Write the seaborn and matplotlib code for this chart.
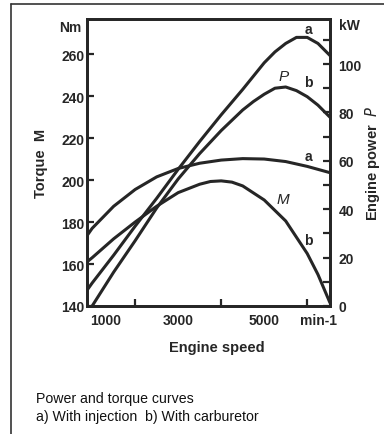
import matplotlib
matplotlib.use("Agg")
import matplotlib.pyplot as plt
import matplotlib.transforms as mtransforms
import seaborn as sns

# values
rpm_power_a = [880, 1000, 1500, 2000, 2500, 3000, 3500, 4000, 4500, 5000, 5250, 5500, 5750, 6000, 6250, 6530]
power_a = [6.5, 9.5, 21, 33, 44.5, 56.5, 68, 79, 89.5, 100.5, 105, 108.5, 111, 111, 108.5, 103.5]

rpm_power_b = [1000, 1500, 2000, 2500, 3000, 3500, 4000, 4500, 4750, 5000, 5250, 5500, 5750, 6000, 6250, 6530]
power_b = [0, 14, 27, 40.5, 52.5, 63, 72.5, 81, 84.5, 87.5, 90, 90.5, 89, 86.5, 83, 78]

rpm_torque_a = [880, 1000, 1500, 2000, 2500, 3000, 3500, 4000, 4500, 5000, 5500, 6000, 6530]
torque_a = [173.5, 177, 187.5, 195.5, 201.5, 205.5, 208, 209.5, 210.2, 210, 208.8, 206.5, 203.5]

rpm_torque_b = [880, 1000, 1500, 2000, 2500, 3000, 3500, 3750, 4000, 4250, 4500, 5000, 5500, 6000, 6250, 6530]
torque_b = [161, 163, 172, 180, 187.5, 194, 198, 199.3, 199.6, 199, 197.2, 190.5, 180.5, 165, 155, 141.5]

torque_ticks = [140, 160, 180, 200, 220, 240, 260]
power_ticks = [0, 20, 40, 60, 80, 100]
power_minor = [10, 30, 50, 70, 90, 110]
speed_ticks = [1000, 3000, 5000, 6256]
speed_labels = ["1000", "3000", "5000", "min-1"]
speed_minor = [2000, 3000, 4000, 5000, 6000]

sns.set_theme(style="white")
plt.rcParams["font.family"] = ["Liberation Sans", "DejaVu Sans"]

ink = "#262626"
lw = 2.2

fig = plt.figure(figsize=(3.84, 4.35), dpi=100)
ax = fig.add_axes([87 / 384, 1 - 307 / 435, 243 / 384, 287 / 435])
ax2 = ax.twinx()

sns.lineplot(x=rpm_torque_a, y=torque_a, ax=ax, color=ink, lw=lw, sort=False)
sns.lineplot(x=rpm_torque_b, y=torque_b, ax=ax, color=ink, lw=lw, sort=False)
sns.lineplot(x=rpm_power_a, y=power_a, ax=ax2, color=ink, lw=lw, sort=False)
sns.lineplot(x=rpm_power_b, y=power_b, ax=ax2, color=ink, lw=lw, sort=False)

ax.set_xlim(880, 6530)
ax.set_ylim(140, 276.7)
ax2.set_ylim(0, 118.6)

for a in (ax, ax2):
    for s in a.spines.values():
        s.set_color(ink)
        s.set_linewidth(2.0)

# left axis
ax.set_yticks(torque_ticks)
ax.set_yticklabels([str(t) for t in torque_ticks])
ax.tick_params(axis="y", direction="in", length=5, width=1.6, color=ink, pad=2,
               labelsize=10, labelcolor=ink, left=True, right=False)

# bottom axis
ax.set_xticks(speed_ticks)
ax.set_xticklabels(speed_labels)
ax.set_xticks(speed_minor, minor=True)
ax.tick_params(axis="x", which="major", length=0, pad=5, labelsize=10, labelcolor=ink)
ax.tick_params(axis="x", which="minor", direction="in", length=5, width=1.6, color=ink, bottom=True)
shift = mtransforms.ScaledTranslation(13 / 100, 0, fig.dpi_scale_trans)
first = ax.get_xticklabels()[0]
first.set_transform(first.get_transform() + shift)

# right axis
ax2.set_yticks(power_ticks)
ax2.set_yticklabels([str(p) for p in power_ticks])
ax2.set_yticks(power_minor, minor=True)
ax2.tick_params(axis="y", which="both", direction="in", length=5, width=1.6, color=ink,
                pad=6, labelsize=10, labelcolor=ink)

for lab in ax.get_xticklabels() + ax.get_yticklabels() + ax2.get_yticklabels():
    lab.set_fontweight("bold")

# axis titles
ax.set_xlabel("Engine speed", fontsize=10.5, fontweight="bold", color=ink)
ax.xaxis.set_label_coords(0.535, -0.12)
ax.set_ylabel("Torque  M", fontsize=10.5, fontweight="bold", color=ink)
ax.yaxis.set_label_coords(-0.19, 0.5)
ax.yaxis.label.set_va("center")
ax2.set_ylabel("Engine power  $\\it{P}$", fontsize=10.5, fontweight="bold", color=ink, rotation=90)
ax2.yaxis.set_label_coords(1.175, 0.5)
ax2.yaxis.label.set_va("center")

# unit labels
ax.text(-0.07, 272.9, "Nm", transform=mtransforms.blended_transform_factory(ax.transAxes, ax.transData),
        ha="center", va="center", fontsize=10, fontweight="bold", color=ink)
ax2.text(1.082, 116, "kW", transform=mtransforms.blended_transform_factory(ax2.transAxes, ax2.transData),
         ha="center", va="center", fontsize=10, fontweight="bold", color=ink)

# curve labels
ax.text(6023, 271.9, "a", ha="center", va="center", fontsize=10, fontweight="bold", color=ink)
ax.text(5442, 249.7, "P", ha="center", va="center", fontsize=11, style="italic", color=ink)
ax.text(6023, 246.5, "b", ha="center", va="center", fontsize=10, fontweight="bold", color=ink)
ax.text(6023, 211.6, "a", ha="center", va="center", fontsize=10, fontweight="bold", color=ink)
ax.text(5442, 191, "M", ha="center", va="center", fontsize=11, style="italic", color=ink)
ax.text(6023, 171.2, "b", ha="center", va="center", fontsize=10, fontweight="bold", color=ink)

# caption
fig.text(36 / 384, 1 - 403 / 435, "Power and torque curves", fontsize=10.2, color="#111", va="baseline")
fig.text(36 / 384, 1 - 421 / 435, "a) With injection  b) With carburetor", fontsize=10.2, color="#111", va="baseline")

# outer frame (open at right and bottom)
fig.add_artist(plt.Line2D([11 / 384, 11 / 384], [0, 1 - 5 / 435], transform=fig.transFigure, color="#333", lw=1.2))
fig.add_artist(plt.Line2D([11 / 384, 1], [1 - 5 / 435, 1 - 5 / 435], transform=fig.transFigure, color="#333", lw=1.2))

fig.savefig("out.png", dpi=100)
